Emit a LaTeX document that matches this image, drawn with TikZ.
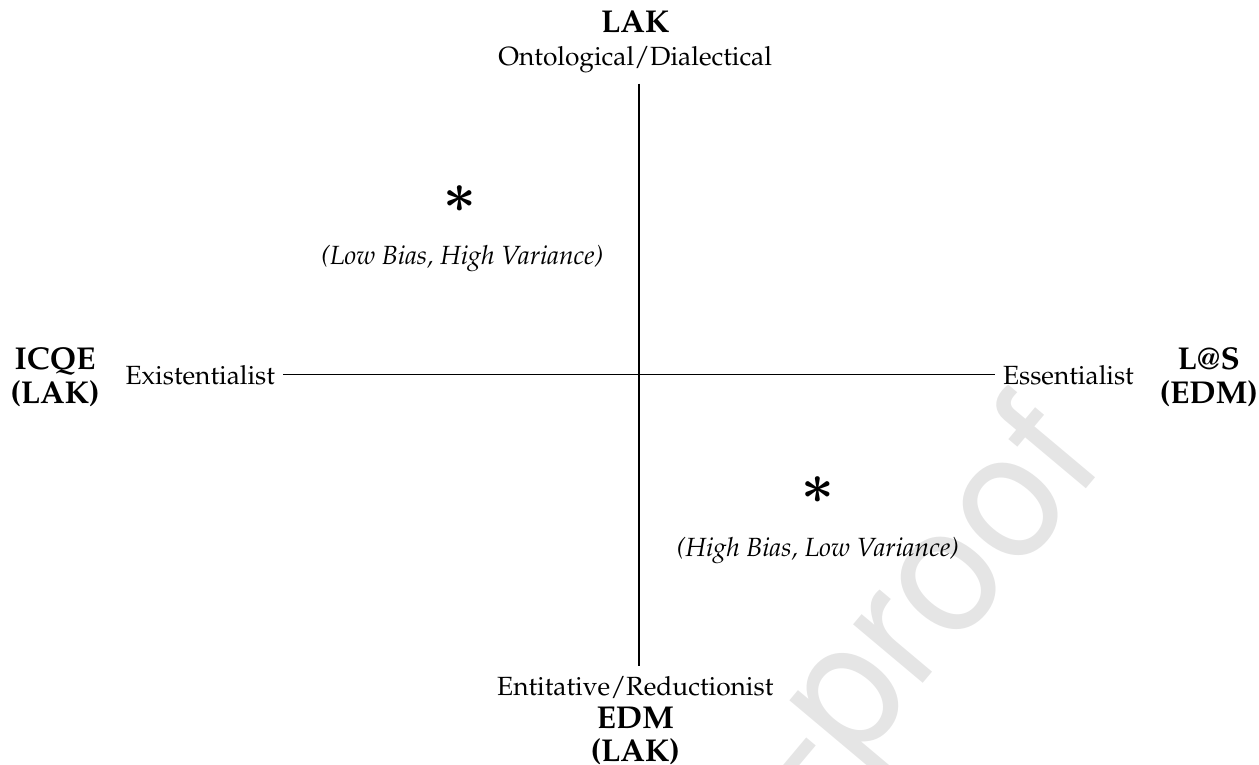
\documentclass[tikz,border=0pt]{standalone}
\usepackage[T1]{fontenc}
\usepackage{mathpazo}
\usepackage{bm}
\usepackage{xcolor}

\newcommand{\polelab}[1]{{\fontsize{12}{12.6}\selectfont\bfseries #1}}

\begin{document}
\begin{tikzpicture}[
  axis/.style = {thin, black},
  pole/.style = {align=center, font=\fontsize{12}{12.6}\selectfont\bfseries},
  axlab/.style = {align=center, font=\fontsize{10}{12.6}\selectfont},
  side/.style = {inner sep=3pt},
  bias/.style = {font=\itshape},
  starmark/.style = {font=\huge},
]
% proporcao 1259x765 px
\useasboundingbox (-8.535,-5.209) rectangle (8.281,5.008);
\def\hx{4.75}
\def\vy{3.89}

% marca d'agua
\node[text=black!10, rotate=50, anchor=base east, inner sep=0pt,
  font=\fontfamily{phv}\selectfont\fontsize{66}{70}\selectfont]
  (wm) at (6.27,-1.17) {Journal Pre-proof};

\coordinate (W) at (-\hx,0);
\coordinate (E) at (\hx,0);
\coordinate (N) at (0,\vy);
\coordinate (S) at (0,-\vy);

\draw[axis] (W) -- (E);
\draw[axis] (N) -- (S);

\node[side, anchor=east] (exist) at (W) {Existentialist};
\node[side, anchor=west] (essen) at (E) {Essentialist};

\node[axlab] (top) at (-0.05,4.45) {\polelab{LAK}\\Ontological/Dialectical};
\node[axlab] (bot) at (-0.05,-4.62) {Entitative/Reductionist\\\polelab{EDM}\\\polelab{(LAK)}};
\node[pole] (icqe) at (-7.80,-0.03) {ICQE\\(LAK)};
\node[pole] (las) at (7.61,-0.03) {L@S\\(EDM)};

% quadrantes
\node[starmark] (lowb) at (-2.39,2.35) {$\bm{\ast}$};
\node[bias] (lowbl) at (-2.36,1.55) {(Low Bias, High Variance)};
\node[starmark] (highb) at (2.39,-1.54) {$\bm{\ast}$};
\node[bias] (highbl) at (2.39,-2.34) {(High Bias, Low Variance)};

\end{tikzpicture}
\end{document}
